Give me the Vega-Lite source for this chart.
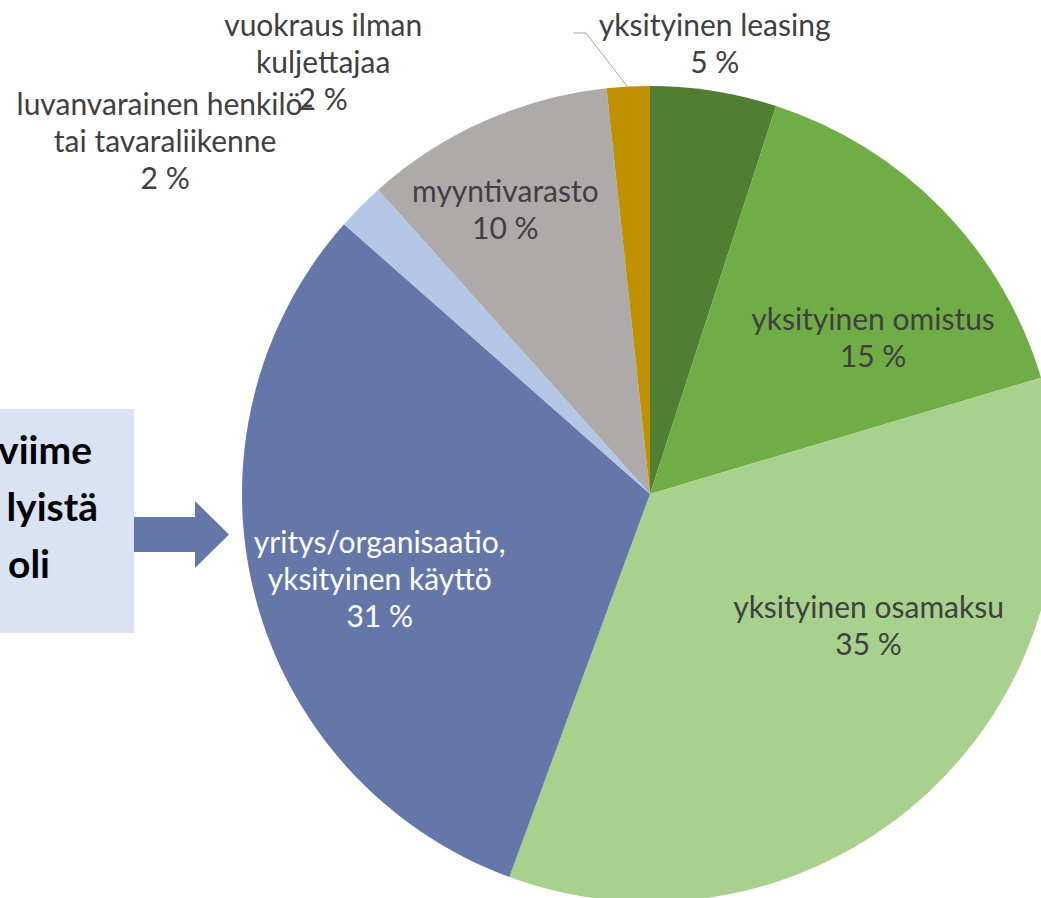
{
  "$schema": "https://vega.github.io/schema/vega-lite/v6.json",
  "width": 1041,
  "height": 898,
  "autosize": {"type": "none"},
  "padding": 0,
  "background": "white",
  "config": {"view": {"stroke": null}},
  "data": {"values": [
    {"idx": 1, "category": "yksityinen leasing", "value": 5.0, "label": "yksityinen leasing\n5 %"},
    {"idx": 2, "category": "yksityinen omistus", "value": 15.4, "label": "yksityinen omistus\n15 %"},
    {"idx": 3, "category": "yksityinen osamaksu", "value": 35.2, "label": "yksityinen osamaksu\n35 %"},
    {"idx": 4, "category": "yritys/organisaatio, yksityinen käyttö", "value": 30.9, "label": "yritys/organisaatio,\nyksityinen käyttö\n31 %"},
    {"idx": 5, "category": "luvanvarainen henkilö- tai tavaraliikenne", "value": 1.9, "label": "luvanvarainen henkilö-\ntai tavaraliikenne\n2 %"},
    {"idx": 6, "category": "myyntivarasto", "value": 9.9, "label": "myyntivarasto\n10 %"},
    {"idx": 7, "category": "vuokraus ilman kuljettajaa", "value": 1.7, "label": "vuokraus ilman\nkuljettajaa\n2 %"}
  ]},
  "layer": [
    {
      "data": {"values": [{}]},
      "mark": {"type": "rect", "color": "#dae3f3"},
      "encoding": {
        "x": {"datum": 0, "type": "quantitative", "scale": {"domain": [0, 1041], "nice": false, "zero": false}, "axis": null},
        "x2": {"datum": 134},
        "y": {"datum": 409, "type": "quantitative", "scale": {"domain": [0, 898], "nice": false, "zero": false, "reverse": true}, "axis": null},
        "y2": {"datum": 633}
      }
    },
    {
      "data": {"values": [{}]},
      "mark": {"type": "text", "text": "viime", "font": "Lato", "fontWeight": "bold", "fontSize": 39, "color": "#000000", "align": "right", "baseline": "alphabetic"},
      "encoding": {
        "x": {"datum": 92, "type": "quantitative", "scale": {"domain": [0, 1041], "nice": false, "zero": false}, "axis": null},
        "y": {"datum": 464, "type": "quantitative", "scale": {"domain": [0, 898], "nice": false, "zero": false, "reverse": true}, "axis": null}
      }
    },
    {
      "data": {"values": [{}]},
      "mark": {"type": "text", "text": "lyistä", "font": "Lato", "fontWeight": "bold", "fontSize": 39, "color": "#000000", "align": "right", "baseline": "alphabetic"},
      "encoding": {
        "x": {"datum": 98, "type": "quantitative", "scale": {"domain": [0, 1041], "nice": false, "zero": false}, "axis": null},
        "y": {"datum": 521, "type": "quantitative", "scale": {"domain": [0, 898], "nice": false, "zero": false, "reverse": true}, "axis": null}
      }
    },
    {
      "data": {"values": [{}]},
      "mark": {"type": "text", "text": "oli", "font": "Lato", "fontWeight": "bold", "fontSize": 39, "color": "#000000", "align": "right", "baseline": "alphabetic"},
      "encoding": {
        "x": {"datum": 50, "type": "quantitative", "scale": {"domain": [0, 1041], "nice": false, "zero": false}, "axis": null},
        "y": {"datum": 578, "type": "quantitative", "scale": {"domain": [0, 898], "nice": false, "zero": false, "reverse": true}, "axis": null}
      }
    },
    {
      "data": {"values": [{}]},
      "mark": {"type": "point", "shape": "M -1 -0.368 L 0.284 -0.368 L 0.284 -0.705 L 1 0 L 0.284 0.705 L 0.284 0.368 L -1 0.368 Z", "filled": true, "color": "#6577a8", "opacity": 1, "size": 9025, "strokeWidth": 0},
      "encoding": {
        "x": {"datum": 181.5, "type": "quantitative", "scale": {"domain": [0, 1041], "nice": false, "zero": false}, "axis": null},
        "y": {"datum": 534.5, "type": "quantitative", "scale": {"domain": [0, 898], "nice": false, "zero": false, "reverse": true}, "axis": null}
      }
    },
    {
      "mark": {"type": "arc", "outerRadius": 408},
      "encoding": {
        "x": {"datum": 650, "type": "quantitative", "scale": {"domain": [0, 1041], "nice": false, "zero": false}, "axis": null},
        "y": {"datum": 494, "type": "quantitative", "scale": {"domain": [0, 898], "nice": false, "zero": false, "reverse": true}, "axis": null},
        "theta": {"field": "value", "type": "quantitative", "stack": true},
        "order": {"field": "idx", "type": "quantitative"},
        "color": {"field": "category", "type": "nominal", "legend": null,
          "scale": {"domain": ["yksityinen leasing", "yksityinen omistus", "yksityinen osamaksu", "yritys/organisaatio, yksityinen käyttö", "luvanvarainen henkilö- tai tavaraliikenne", "myyntivarasto", "vuokraus ilman kuljettajaa"],
                    "range": ["#507e32", "#70ad47", "#a9d18e", "#6577a8", "#b4c7e7", "#aeaaaa", "#bf9000"]}}
      }
    },
    {
      "mark": {"type": "text", "radius": 452, "dx": -6, "dy": -21, "font": "Lato", "fontSize": 30, "lineHeight": 37, "lineBreak": "\n", "color": "#404040"},
      "encoding": {
        "x": {"datum": 650, "type": "quantitative", "scale": {"domain": [0, 1041], "nice": false, "zero": false}, "axis": null},
        "y": {"datum": 494, "type": "quantitative", "scale": {"domain": [0, 898], "nice": false, "zero": false, "reverse": true}, "axis": null},
        "theta": {"field": "value", "type": "quantitative", "stack": true},
        "order": {"field": "idx", "type": "quantitative"},
        "text": {"condition": {"test": "datum.idx === 1", "field": "label", "type": "nominal"}, "value": ""}
      }
    },
    {
      "mark": {"type": "text", "radius": 271, "dx": 29, "dy": 16, "font": "Lato", "fontSize": 30, "lineHeight": 37, "lineBreak": "\n", "color": "#404040"},
      "encoding": {
        "x": {"datum": 650, "type": "quantitative", "scale": {"domain": [0, 1041], "nice": false, "zero": false}, "axis": null},
        "y": {"datum": 494, "type": "quantitative", "scale": {"domain": [0, 898], "nice": false, "zero": false, "reverse": true}, "axis": null},
        "theta": {"field": "value", "type": "quantitative", "stack": true},
        "order": {"field": "idx", "type": "quantitative"},
        "text": {"condition": {"test": "datum.idx === 2", "field": "label", "type": "nominal"}, "value": ""}
      }
    },
    {
      "mark": {"type": "text", "radius": 255, "dx": 44, "dy": -71, "font": "Lato", "fontSize": 30, "lineHeight": 37, "lineBreak": "\n", "color": "#404040"},
      "encoding": {
        "x": {"datum": 650, "type": "quantitative", "scale": {"domain": [0, 1041], "nice": false, "zero": false}, "axis": null},
        "y": {"datum": 494, "type": "quantitative", "scale": {"domain": [0, 898], "nice": false, "zero": false, "reverse": true}, "axis": null},
        "theta": {"field": "value", "type": "quantitative", "stack": true},
        "order": {"field": "idx", "type": "quantitative"},
        "text": {"condition": {"test": "datum.idx === 3", "field": "label", "type": "nominal"}, "value": ""}
      }
    },
    {
      "mark": {"type": "text", "radius": 283, "dx": 4, "dy": -20, "font": "Lato", "fontSize": 30, "lineHeight": 37, "lineBreak": "\n", "color": "#ffffff"},
      "encoding": {
        "x": {"datum": 650, "type": "quantitative", "scale": {"domain": [0, 1041], "nice": false, "zero": false}, "axis": null},
        "y": {"datum": 494, "type": "quantitative", "scale": {"domain": [0, 898], "nice": false, "zero": false, "reverse": true}, "axis": null},
        "theta": {"field": "value", "type": "quantitative", "stack": true},
        "order": {"field": "idx", "type": "quantitative"},
        "text": {"condition": {"test": "datum.idx === 4", "field": "label", "type": "nominal"}, "value": ""}
      }
    },
    {
      "mark": {"type": "text", "radius": 599, "dx": -60, "dy": 34, "font": "Lato", "fontSize": 30, "lineHeight": 37, "lineBreak": "\n", "color": "#404040"},
      "encoding": {
        "x": {"datum": 650, "type": "quantitative", "scale": {"domain": [0, 1041], "nice": false, "zero": false}, "axis": null},
        "y": {"datum": 494, "type": "quantitative", "scale": {"domain": [0, 898], "nice": false, "zero": false, "reverse": true}, "axis": null},
        "theta": {"field": "value", "type": "quantitative", "stack": true},
        "order": {"field": "idx", "type": "quantitative"},
        "text": {"condition": {"test": "datum.idx === 5", "field": "label", "type": "nominal"}, "value": ""}
      }
    },
    {
      "mark": {"type": "text", "radius": 317, "dx": -16, "dy": -11, "font": "Lato", "fontSize": 30, "lineHeight": 37, "lineBreak": "\n", "color": "#404040"},
      "encoding": {
        "x": {"datum": 650, "type": "quantitative", "scale": {"domain": [0, 1041], "nice": false, "zero": false}, "axis": null},
        "y": {"datum": 494, "type": "quantitative", "scale": {"domain": [0, 898], "nice": false, "zero": false, "reverse": true}, "axis": null},
        "theta": {"field": "value", "type": "quantitative", "stack": true},
        "order": {"field": "idx", "type": "quantitative"},
        "text": {"condition": {"test": "datum.idx === 6", "field": "label", "type": "nominal"}, "value": ""}
      }
    },
    {
      "mark": {"type": "text", "radius": 540, "dx": -298, "dy": 72, "font": "Lato", "fontSize": 30, "lineHeight": 37, "lineBreak": "\n", "color": "#404040"},
      "encoding": {
        "x": {"datum": 650, "type": "quantitative", "scale": {"domain": [0, 1041], "nice": false, "zero": false}, "axis": null},
        "y": {"datum": 494, "type": "quantitative", "scale": {"domain": [0, 898], "nice": false, "zero": false, "reverse": true}, "axis": null},
        "theta": {"field": "value", "type": "quantitative", "stack": true},
        "order": {"field": "idx", "type": "quantitative"},
        "text": {"condition": {"test": "datum.idx === 7", "field": "label", "type": "nominal"}, "value": ""}
      }
    },
    {
      "data": {"values": [{}]},
      "mark": {"type": "rule", "color": "#a6a6a6", "strokeWidth": 1},
      "encoding": {
        "x": {"datum": 573, "type": "quantitative", "scale": {"domain": [0, 1041], "nice": false, "zero": false}, "axis": null},
        "x2": {"datum": 586},
        "y": {"datum": 33, "type": "quantitative", "scale": {"domain": [0, 898], "nice": false, "zero": false, "reverse": true}, "axis": null},
        "y2": {"datum": 33}
      }
    },
    {
      "data": {"values": [{}]},
      "mark": {"type": "rule", "color": "#a6a6a6", "strokeWidth": 1},
      "encoding": {
        "x": {"datum": 586, "type": "quantitative", "scale": {"domain": [0, 1041], "nice": false, "zero": false}, "axis": null},
        "x2": {"datum": 627},
        "y": {"datum": 33, "type": "quantitative", "scale": {"domain": [0, 898], "nice": false, "zero": false, "reverse": true}, "axis": null},
        "y2": {"datum": 86}
      }
    }
  ]
}
